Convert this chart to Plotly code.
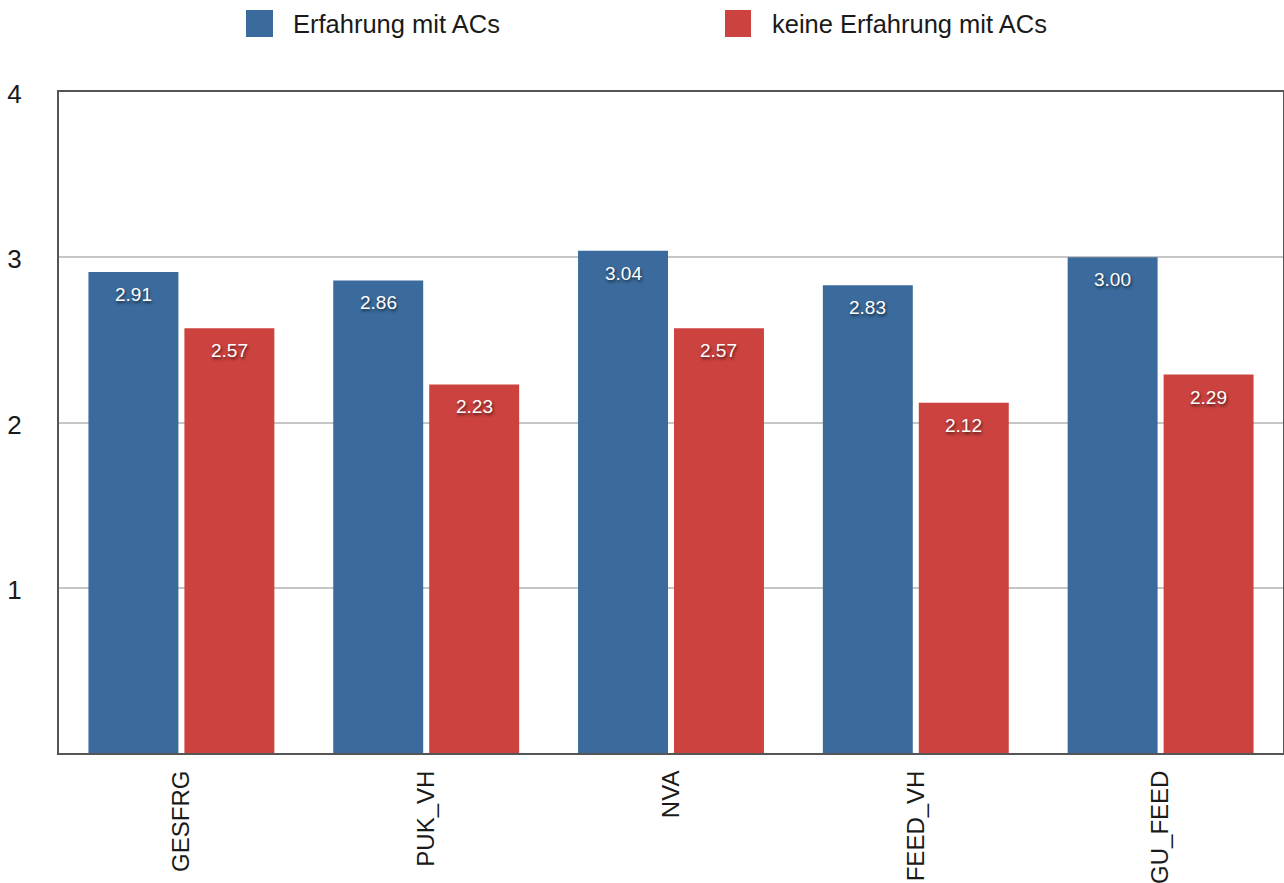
import plotly.graph_objects as go

# Data
categories = ["GESFRG", "PUK_VH", "NVA", "FEED_VH", "GU_FEED"]
series_names = ["Erfahrung mit ACs", "keine Erfahrung mit ACs"]
values_experienced = [2.91, 2.86, 3.04, 2.83, 3.00]
values_none = [2.57, 2.23, 2.57, 2.12, 2.29]
y_ticks = [1, 2, 3, 4]

BLUE = "#3b6b9c"
RED = "#cb423f"
FONT = "Liberation Sans, Arial, Helvetica, sans-serif"

W, H = 1284, 883
ML, MR, MT, MB = 59, 1, 92, 130
PW, PH = W - ML - MR, H - MT - MB


def px_x(px):
    return (px - ML) / PW


def px_y(py):
    return (H - MB - py) / PH


fig = go.Figure()
fig.add_trace(go.Bar(x=categories, y=values_experienced, name=series_names[0],
                     marker=dict(color=BLUE, line=dict(width=0))))
fig.add_trace(go.Bar(x=categories, y=values_none, name=series_names[1],
                     marker=dict(color=RED, line=dict(width=0))))

# value labels inside the top of each bar
half_slot = PW / len(categories) * (1 - 0.216) / 4
annotations = []
for vals, shift in ((values_experienced, -half_slot), (values_none, half_slot)):
    for c, v in zip(categories, vals):
        annotations.append(dict(
            x=c, y=v, xref="x", yref="y", text=f"{v:.2f}", showarrow=False,
            xshift=shift, yshift=-10, yanchor="top", xanchor="center",
            font=dict(family=FONT, size=19, color="white",
                      shadow="1px 2px 3px rgba(0,0,0,0.6)")))

# legend drawn at the top
shapes = []
legend_items = [(series_names[0], BLUE, 246, 273, 291),
                (series_names[1], RED, 725, 751, 770)]
for name, col, x0, x1, tx in legend_items:
    shapes.append(dict(type="rect", xref="paper", yref="paper",
                       x0=px_x(x0), x1=px_x(x1), y0=px_y(37), y1=px_y(10),
                       fillcolor=col, line=dict(width=0)))
    annotations.append(dict(x=px_x(tx), y=px_y(24), xref="paper", yref="paper",
                            text=name, showarrow=False, xanchor="left",
                            yanchor="middle",
                            font=dict(family=FONT, size=25.5, color="#1a1a1a")))

fig.update_layout(
    width=W, height=H,
    margin=dict(l=ML, r=MR, t=MT, b=MB, pad=0, autoexpand=False),
    paper_bgcolor="white", plot_bgcolor="white",
    barmode="group", bargap=0.216, bargroupgap=0.0625,
    showlegend=False,
    shapes=shapes, annotations=annotations,
    font=dict(family=FONT, color="#1a1a1a"),
)
fig.update_xaxes(
    automargin=False,
    showline=True, linecolor="#555555", linewidth=2, mirror=True,
    showgrid=False, ticks="", tickangle=-90,
    tickfont=dict(family=FONT, size=24, color="#1a1a1a"),
    ticklabelstandoff=6,
)
fig.update_yaxes(
    automargin=False,
    range=[0, 4], tickvals=y_ticks, ticktext=[str(t) for t in y_ticks],
    showline=True, linecolor="#555555", linewidth=2, mirror=True,
    showgrid=True, gridcolor="#c6c6c6", gridwidth=2, zeroline=False,
    ticks="", tickfont=dict(family=FONT, size=26, color="#1a1a1a"),
    ticklabelstandoff=30, ticklabelshift=2,
)

fig.write_html("out.html")
